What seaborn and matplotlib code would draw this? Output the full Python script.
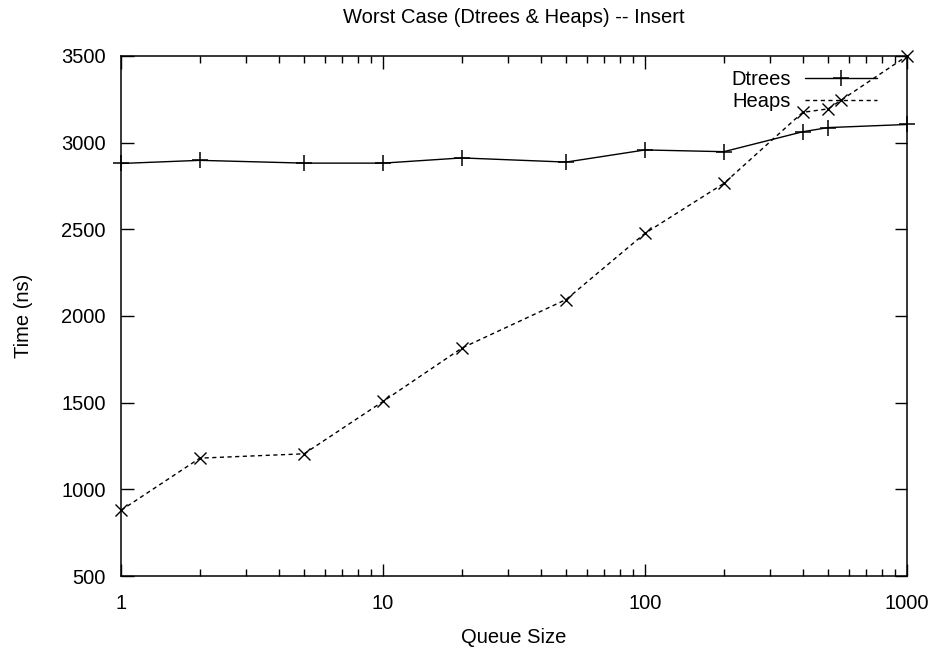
import matplotlib
matplotlib.use("Agg")
import matplotlib.pyplot as plt
import seaborn as sns
import pandas as pd
from matplotlib.ticker import LogLocator, NullFormatter

# ---- data ----
queue_sizes = [1, 2, 5, 10, 20, 50, 100, 200, 400, 500, 1000]
dtrees_ns = [2880, 2898, 2882, 2882, 2912, 2888, 2958, 2948, 3063, 3087, 3105]
heaps_ns = [879, 1180, 1205, 1507, 1815, 2095, 2477, 2765, 3175, 3195, 3500]
series_names = ["Dtrees", "Heaps"]
x_tick_values = [1, 10, 100, 1000]
x_tick_labels = ["1", "10", "100", "1000"]
y_tick_values = [500, 1000, 1500, 2000, 2500, 3000, 3500]

df = pd.DataFrame({
    "Queue Size": queue_sizes * 2,
    "Time (ns)": dtrees_ns + heaps_ns,
    "series": [series_names[0]] * len(queue_sizes) + [series_names[1]] * len(queue_sizes),
})

sns.set_style("white")
plt.rcParams["font.family"] = ["Liberation Sans", "DejaVu Sans"]
plt.rcParams["text.color"] = "black"
plt.rcParams["axes.labelcolor"] = "black"
plt.rcParams["xtick.color"] = "black"
plt.rcParams["ytick.color"] = "black"
FS = 14.5

fig = plt.figure(figsize=(9.38, 6.55), dpi=100)
ax = fig.add_axes([121 / 938, 1 - 576 / 655, (907 - 121) / 938, (576 - 56) / 655])

sns.lineplot(data=df[df.series == "Dtrees"], x="Queue Size", y="Time (ns)", ax=ax,
             color="black", lw=1.0, marker="+", markersize=11, markeredgewidth=1.1,
             markeredgecolor="black", markerfacecolor="black",
             label="Dtrees", clip_on=False)
sns.lineplot(data=df[df.series == "Heaps"], x="Queue Size", y="Time (ns)", ax=ax,
             color="black", lw=1.0, marker="x", markersize=8, markeredgewidth=1.0,
             markeredgecolor="black", markerfacecolor="black",
             dashes=(3, 2.5), label="Heaps", clip_on=False)

ax.set_xscale("log")
ax.set_xlim(1, 1000)
ax.set_ylim(500, 3500)
ax.set_xticks(x_tick_values)
ax.set_xticklabels(x_tick_labels)
ax.xaxis.set_minor_locator(LogLocator(base=10, subs=range(2, 10), numticks=20))
ax.xaxis.set_minor_formatter(NullFormatter())
ax.set_yticks(y_tick_values)
ax.set_yticklabels([str(v) for v in y_tick_values])

for s in ax.spines.values():
    s.set_visible(True)
    s.set_color("black")
    s.set_linewidth(1.1)

ax.tick_params(which="major", direction="in", length=9, width=1.0, top=True, right=True,
               bottom=True, left=True, labelsize=FS, pad=11, colors="black")
ax.tick_params(axis="x", which="major", pad=13)
ax.tick_params(which="minor", direction="in", length=5, width=1.0, top=True, bottom=True)

ax.set_title("Worst Case (Dtrees & Heaps) -- Insert", fontsize=FS, pad=24, color="black")
ax.set_xlabel("Queue Size", fontsize=FS, labelpad=11)
ax.set_ylabel("Time (ns)", fontsize=FS, labelpad=20)

leg = ax.legend(loc="upper right", bbox_to_anchor=((877 - 121) / 786, (576 - 70) / 520),
                bbox_transform=ax.transAxes, frameon=False, markerfirst=False,
                fontsize=FS, handlelength=3.6, handletextpad=0.7, labelspacing=0.15,
                borderpad=0, borderaxespad=0)
for t in leg.get_texts():
    t.set_color("black")

fig.savefig("out.png", dpi=100, facecolor="white")
